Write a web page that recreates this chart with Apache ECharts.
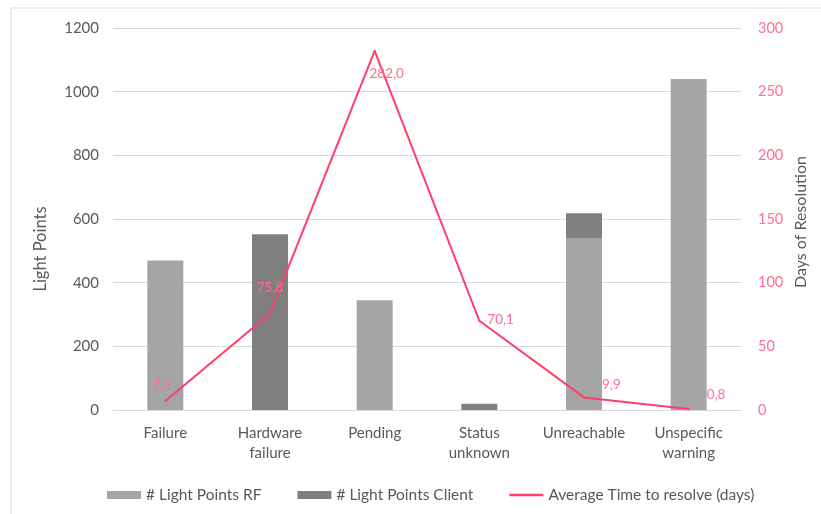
<!DOCTYPE html>
<html>
<head>
<meta charset="utf-8">
<script src="https://cdn.jsdelivr.net/npm/echarts@6/dist/echarts.min.js"></script>
<style>html,body{margin:0;padding:0;background:#fff;}#c{width:821px;height:514px;}</style>
</head>
<body>
<div id="c"></div>
<script>
const categories = ['Failure', 'Hardware\nfailure', 'Pending', 'Status\nunknown', 'Unreachable', 'Unspecific\nwarning'];
const rfValues = [470, 0, 345, 0, 540, 1040];
const clientValues = [0, 552, 0, 20, 78, 0];
const avgDays = [7.1, 75.8, 282.0, 70.1, 9.9, 0.8];
const leftTicks = [0, 1200, 200];
const rightTicks = [0, 300, 50];

const FONT = 'Lato';
const pink = '#FF3D6B';
const pinkText = '#FF6F8F';
const grey = '#595959';
const labelPos = [
  {position: 'top', offset: [-3, -2]},
  {position: 'top', offset: [0, -13]},
  {position: 'bottom', offset: [12, 10]},
  {position: 'right', offset: [2, -1]},
  {position: 'right', offset: [12, -13]},
  {position: 'right', offset: [12, -14]}
];

const chart = echarts.init(document.getElementById('c'));
chart.setOption({
  animation: false,
  textStyle: {fontFamily: FONT},
  graphic: [{
    type: 'rect', shape: {x: 11, y: 8, width: 830, height: 530},
    style: {fill: 'none', stroke: '#D9D9D9', lineWidth: 1}, silent: true, z: -10
  }, {
    type: 'text', x: 41, y: 249, rotation: Math.PI / 2,
    style: {text: 'Light Points', fill: grey, font: '16.5px Lato', align: 'center', verticalAlign: 'middle'}
  }, {
    type: 'text', x: 801, y: 222, rotation: Math.PI / 2,
    style: {text: 'Days of Resolution', fill: grey, font: '16px Lato', align: 'center', verticalAlign: 'middle'}
  }],
  grid: {left: 113, right: 80, top: 28, bottom: 104},
  legend: {
    top: 482, left: 102, itemWidth: 34, itemHeight: 8, itemGap: 36,
    textStyle: {fontFamily: FONT, fontSize: 15.5, color: grey},
    data: [
      {name: '# Light Points RF', icon: 'rect'},
      {name: '# Light Points Client', icon: 'rect'},
      {name: 'Average Time to resolve (days)', icon: 'path://M0 0h34v2.6h-34z', itemStyle: {color: pink}}
    ]
  },
  xAxis: {
    type: 'category', data: categories,
    axisLine: {lineStyle: {color: '#D9D9D9'}},
    axisTick: {show: false},
    axisLabel: {color: grey, fontSize: 15, fontFamily: FONT, margin: 13, lineHeight: 20, interval: 0}
  },
  yAxis: [{
    type: 'value', min: leftTicks[0], max: leftTicks[1], interval: leftTicks[2],
    axisLabel: {color: grey, fontSize: 15, fontFamily: FONT, margin: 14, formatter: v => String(v)},
    splitLine: {lineStyle: {color: '#D9D9D9'}},
    axisLine: {show: false}, axisTick: {show: false}
  }, {
    type: 'value', min: rightTicks[0], max: rightTicks[1], interval: rightTicks[2],
    axisLabel: {color: pinkText, fontSize: 14.5, fontFamily: FONT, margin: 17},
    splitLine: {show: false}, axisLine: {show: false}, axisTick: {show: false}
  }],
  series: [{
    name: '# Light Points RF', type: 'bar', stack: 'lp', barWidth: 36,
    itemStyle: {color: '#A5A5A5'}, data: rfValues
  }, {
    name: '# Light Points Client', type: 'bar', stack: 'lp', barWidth: 36,
    itemStyle: {color: '#7F7F7F'}, data: clientValues
  }, {
    name: 'Average Time to resolve (days)', type: 'line', yAxisIndex: 1,
    symbol: 'circle', symbolSize: 2, showSymbol: true,
    lineStyle: {color: pink, width: 2}, itemStyle: {color: pink},
    data: avgDays.map((v, i) => ({value: v, label: labelPos[i]})),
    label: {
      show: true, color: pinkText, fontSize: 13.5, fontFamily: FONT,
      formatter: p => p.value.toFixed(1).replace('.', ',')
    }
  }]
});
</script>
</body>
</html>
